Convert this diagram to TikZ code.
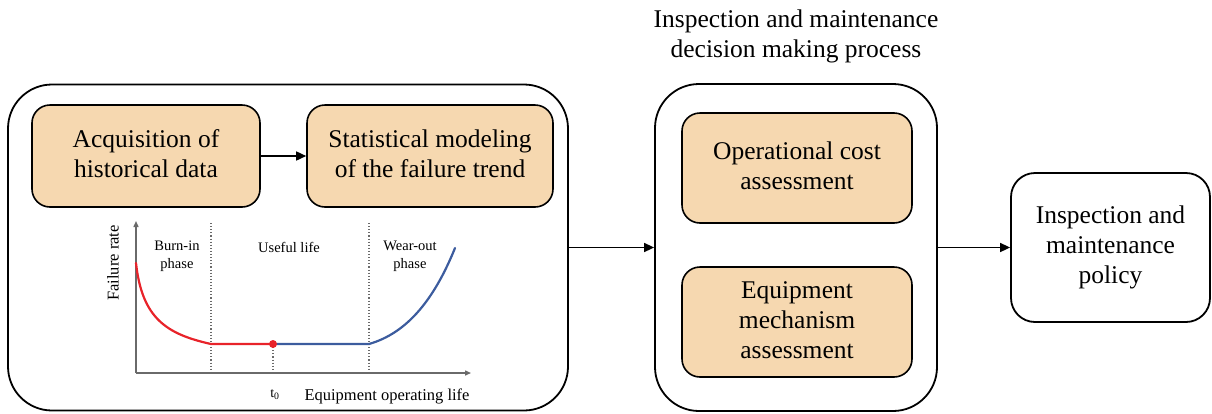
\documentclass[tikz,border=0pt]{standalone}
\usepackage{fontspec}
\usepackage{graphicx}
\setmainfont{Liberation Serif}
\usetikzlibrary{arrows.meta}
\definecolor{boxfill}{HTML}{F6D8B0}
\definecolor{curvered}{HTML}{E8232A}
\definecolor{curveblue}{HTML}{3C5C9E}
\definecolor{axisgray}{HTML}{6A6A6A}
% large centred labels: set at 12.75pt and enlarged twice
\newcommand\biglabel[1]{\scalebox{2}{\fontsize{12.75}{15}\selectfont\begin{tabular}{@{}c@{}}#1\end{tabular}}}
\begin{document}
\begin{tikzpicture}[x=1pt,y=-1pt,
  outerbox/.style={draw=black,line width=1.8pt,rounded corners=44pt,inner sep=0pt},
  policybox/.style={draw=black,line width=1.8pt,rounded corners=24pt,inner sep=0pt},
  stagebox/.style={draw=black,line width=1.6pt,fill=boxfill,rounded corners=18pt,inner sep=0pt},
  flow/.style={draw=black,line width=1.6pt,-{Triangle[length=10pt,width=9pt]}},
  axis/.style={draw=axisgray,line width=1.4pt,-{Triangle[length=6pt,width=5pt]}},
  guide/.style={draw=axisgray,line width=1.1pt,dotted},
  phase/.style={font=\fontsize{14.5}{18}\selectfont,align=center,inner sep=0pt},
  axlabel/.style={font=\fontsize{16.5}{19}\selectfont,inner sep=0pt}]
\useasboundingbox (0,0) rectangle (1212,413);

% containers
\node[outerbox,minimum width=560pt,minimum height=326pt] (left) at (288,247.5) {};
\node[outerbox,minimum width=282pt,minimum height=327pt] (mid) at (796,247.5) {};
\node[policybox,minimum width=199pt,minimum height=149pt] (policy) at (1110.5,247.5)
  {\biglabel{Inspection and\\maintenance\\policy}};

% title above the decision box
\node[inner sep=0pt] (title) at (796,36)
  {\biglabel{Inspection and maintenance\\decision making process}};

% stages
\node[stagebox,minimum width=228pt,minimum height=102pt] (acq) at (146,156)
  {\biglabel{Acquisition of\\historical data}};
\node[stagebox,minimum width=246pt,minimum height=102pt] (stat) at (430,156)
  {\biglabel{Statistical modeling\\of the failure trend}};
\node[stagebox,minimum width=230pt,minimum height=110pt] (cost) at (797,168)
  {\biglabel{Operational cost\\assessment}};
\node[stagebox,minimum width=230pt,minimum height=110pt] (mech) at (797,322)
  {\biglabel{Equipment\\mechanism\\assessment}};

% connectors
\draw[flow] (acq.east) -- (stat.west);
\draw[flow] (left.east) -- (mid.west);
\draw[flow] (mid.east) -- (policy.west);

% bathtub curve
\coordinate (o) at (136,373);
\coordinate (ytop) at (136,221);
\coordinate (xend) at (471,373);
\coordinate (b1) at (211,344);
\coordinate (t0) at (273,344);
\coordinate (b2) at (369,344);

\draw[guide] (211,223) -- (211,373);
\draw[guide] (369,223) -- (369,373);
\draw[guide] (t0) -- (273,371);

\draw[axis] (o) -- (ytop);
\draw[axis] (o) -- (xend);

\draw[curvered,line width=2.2pt,line cap=round] (136,263) .. controls (142,318) and (166,334) .. (b1) -- (t0);
\draw[curveblue,line width=2.2pt,line cap=round] (t0) -- (b2) .. controls (400,335) and (430,310) .. (455,248);
\fill[curvered] (t0) circle (4pt);

\node[phase] (burn) at (177,256) {Burn-in\\phase};
\node[phase] (useful) at (289,247) {Useful life};
\node[phase] (wear) at (410,256) {Wear-out\\phase};

\node[axlabel,rotate=90] (ylab) at (113,263) {Failure rate};
\node[axlabel,anchor=base] (xlab) at (387,400) {Equipment operating life};
\node[font=\fontsize{14}{16}\selectfont,inner sep=0pt,anchor=base] (t0lab) at (275,397) {t\textsubscript{0}};
\end{tikzpicture}
\end{document}
